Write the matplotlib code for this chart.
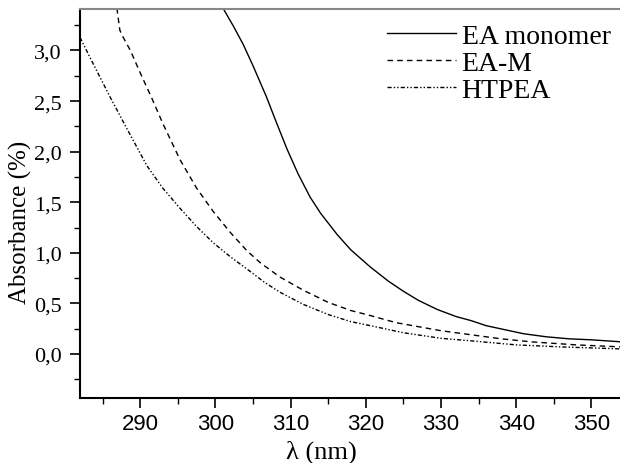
import matplotlib
matplotlib.use("Agg")
import matplotlib.pyplot as plt
from matplotlib.ticker import MultipleLocator, FuncFormatter

# EA monomer (solid)
ea_mono_x = [301.0, 302.4, 303.7, 305.0, 306.8, 308.0, 309.5, 311.0, 312.6, 314.0,
             316.2, 318.0, 320.6, 323.0, 325.0, 327.0, 329.5, 332.0, 334.0, 336.0,
             338.8, 341.0, 344.0, 347.0, 350.0, 354.0]
ea_mono_y = [3.42, 3.24, 3.06, 2.85, 2.54, 2.31, 2.03, 1.78, 1.55, 1.39,
             1.18, 1.03, 0.86, 0.72, 0.62, 0.53, 0.44, 0.37, 0.33, 0.28,
             0.235, 0.20, 0.17, 0.15, 0.14, 0.12]

# EA-M (dashed)
ea_m_x = [286.9, 287.3, 287.6, 288.7, 290.0, 291.6, 293.0, 295.3, 297.5, 299.7,
          302.0, 304.2, 306.0, 308.6, 311.7, 315.0, 318.0, 320.6, 324.0, 327.0,
          330.0, 334.0, 338.0, 342.0, 348.0, 354.0]
ea_m_y = [3.42, 3.20, 3.15, 3.00, 2.78, 2.52, 2.28, 1.92, 1.64, 1.41,
          1.20, 1.02, 0.90, 0.76, 0.63, 0.51, 0.43, 0.38, 0.31, 0.27,
          0.23, 0.19, 0.15, 0.12, 0.09, 0.07]

# HTPEA (dash-dot-dot)
htpea_x = [282.0, 283.4, 286.0, 288.0, 290.9, 293.0, 295.3, 297.5, 299.7, 302.0,
           304.2, 306.5, 308.6, 311.7, 315.0, 318.0, 320.6, 325.0, 330.0, 334.0,
           340.0, 346.0, 354.0]
htpea_y = [3.13, 2.92, 2.54, 2.26, 1.86, 1.64, 1.44, 1.26, 1.10, 0.96,
           0.84, 0.71, 0.61, 0.49, 0.39, 0.32, 0.28, 0.21, 0.155, 0.13,
           0.09, 0.07, 0.05]

labels = ["EA monomer", "EA-M", "HTPEA"]

W, H = 620, 464
fig = plt.figure(figsize=(W/100, H/100), dpi=100)
ax = fig.add_axes([80/W, 1-399/H, 1-80/W, (399-10)/H])

ax.plot(ea_mono_x, ea_mono_y, color="black", lw=1.0, ls="-", label=labels[0])
ax.plot(ea_m_x, ea_m_y, color="black", lw=1.0, ls=(0, (4, 3)), label=labels[1])
ax.plot(htpea_x, htpea_y, color="black", lw=1.0, ls=(0, (3, 1.5, 1, 1.5, 1, 1.5)), label=labels[2])

ax.set_xlim(282.0, 353.8)
ax.set_ylim(-0.435, 3.41)

ax.xaxis.set_major_locator(MultipleLocator(10))
ax.xaxis.set_minor_locator(MultipleLocator(5))
ax.yaxis.set_major_locator(MultipleLocator(0.5))
ax.yaxis.set_minor_locator(MultipleLocator(0.25))
ax.yaxis.set_major_formatter(FuncFormatter(lambda v, p: f"{v:.1f}".replace(".", ",")))

ax.tick_params(which="major", direction="out", length=7, width=1.2)
ax.tick_params(which="minor", direction="out", length=4, width=1.0)
ax.tick_params(top=False, right=False)
ax.tick_params(axis="x", pad=4)
ax.tick_params(axis="y", pad=6)

for lab in ax.get_xticklabels():
    lab.set_fontfamily("Liberation Sans")
    lab.set_fontsize(16)
for lab in ax.get_yticklabels():
    lab.set_fontfamily("Liberation Serif")
    lab.set_fontsize(16)

ax.spines["left"].set_linewidth(1.5)
ax.spines["bottom"].set_linewidth(1.5)
ax.spines["top"].set_color("#888888")
ax.spines["top"].set_linewidth(1.5)
ax.spines["right"].set_visible(False)

fig.text(321/W, 1-452/H, "λ (nm)", fontfamily="Liberation Serif", fontsize=19,
         ha="center", va="center")
fig.text(20/W, 1-222/H, "Absorbance (%)", fontfamily="Liberation Serif", fontsize=18,
         ha="center", va="center", rotation=90)

leg = ax.legend(loc="upper right", bbox_to_anchor=(1.0 + 10/540, 1.013), frameon=False,
                prop={"family": "Liberation Serif", "size": 20},
                handlelength=2.5, handletextpad=0.2, labelspacing=0.06,
                borderaxespad=0.3)

fig.savefig("out.png", dpi=100)
